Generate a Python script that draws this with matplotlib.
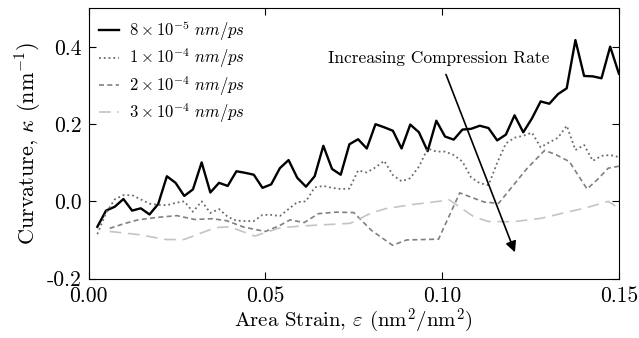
import numpy as np
import matplotlib
matplotlib.use("Agg")
import matplotlib.pyplot as plt

plt.rcParams['font.family'] = 'serif'
plt.rcParams['font.serif'] = ['cmr10']
plt.rcParams['mathtext.fontset'] = 'cm'
plt.rcParams['axes.unicode_minus'] = False

# Strain grid for the two finest runs
strain = np.linspace(0.0025, 0.15, 61)

# 8e-5 nm/ps
k_8e5 = [-0.066, -0.024, -0.014, 0.006, -0.024, -0.018, -0.034, -0.007, 0.065, 0.048,
         0.014, 0.031, 0.101, 0.023, 0.048, 0.040, 0.078, 0.074, 0.069, 0.035,
         0.044, 0.086, 0.107, 0.061, 0.038, 0.065, 0.144, 0.084, 0.069, 0.148,
         0.161, 0.137, 0.200, 0.192, 0.183, 0.137, 0.199, 0.179, 0.130, 0.209,
         0.168, 0.160, 0.186, 0.188, 0.196, 0.190, 0.158, 0.173, 0.223, 0.179,
         0.215, 0.259, 0.253, 0.278, 0.293, 0.418, 0.325, 0.324, 0.319, 0.401,
         0.331]

# 1e-4 nm/ps
k_1e4 = [-0.085, -0.030, 0.005, 0.016, 0.016, 0.005, -0.006, -0.009, -0.010, -0.004,
         0.000, -0.027, 0.000, -0.030, -0.020, -0.040, -0.050, -0.051, -0.051, -0.035,
         -0.035, -0.038, -0.020, -0.002, 0.000, 0.036, 0.040, 0.035, 0.032, 0.033,
         0.080, 0.075, 0.088, 0.105, 0.068, 0.052, 0.060, 0.090, 0.137, 0.129,
         0.129, 0.120, 0.103, 0.062, 0.047, 0.042, 0.100, 0.150, 0.165, 0.170,
         0.178, 0.140, 0.153, 0.165, 0.196, 0.133, 0.146, 0.105, 0.118, 0.120,
         0.115]

# 2e-4 nm/ps
strain_2e4 = [0.0060, 0.0100, 0.0140, 0.0190, 0.0250, 0.0300, 0.0350, 0.0390, 0.0440, 0.0500,
              0.0540, 0.0570, 0.0610, 0.0650, 0.0700, 0.0750, 0.0800, 0.0860, 0.0900, 0.0990,
              0.1050, 0.1090, 0.1120, 0.1160, 0.1240, 0.1290, 0.1320, 0.1360, 0.1410, 0.1440,
              0.1470, 0.1500]
k_2e4 = [-0.070, -0.058, -0.048, -0.042, -0.037, -0.047, -0.045, -0.050, -0.067, -0.078,
         -0.063, -0.048, -0.055, -0.032, -0.028, -0.029, -0.075, -0.114, -0.100, -0.098,
         0.022, 0.008, -0.002, -0.005, 0.085, 0.132, 0.122, 0.103, 0.032, 0.057,
         0.086, 0.091]

# 3e-4 nm/ps
strain_3e4 = [0.0060, 0.0140, 0.0220, 0.0270, 0.0310, 0.0360, 0.0400, 0.0470, 0.0540, 0.0600,
              0.0680, 0.0740, 0.0800, 0.0840, 0.0910, 0.0990, 0.1020, 0.1090, 0.1130, 0.1200,
              0.1280, 0.1340, 0.1410, 0.1470, 0.1500]
k_3e4 = [-0.078, -0.086, -0.099, -0.099, -0.085, -0.068, -0.066, -0.090, -0.069, -0.064,
         -0.060, -0.057, -0.030, -0.019, -0.009, 0.000, 0.004, -0.040, -0.052, -0.053,
         -0.044, -0.031, -0.016, 0.000, -0.018]

fig = plt.figure(figsize=(6.39, 3.38), dpi=100)
ax = fig.add_axes([0.1385, 0.176, 0.830, 0.799])

ax.plot(strain, k_8e5, '-', color='black', lw=1.7, label=r'$8\times10^{-5}\ nm/ps$')
ax.plot(strain, k_1e4, ':', color='#6a6a6a', lw=1.3, label=r'$1\times10^{-4}\ nm/ps$')
ax.plot(strain_2e4, k_2e4, '--', color='#808080', lw=1.2, dashes=(3, 2),
        label=r'$2\times10^{-4}\ nm/ps$')
ax.plot(strain_3e4, k_3e4, '--', color='#c4c4c4', lw=1.2, dashes=(7, 4),
        label=r'$3\times10^{-4}\ nm/ps$')

ax.text(0.099, 0.370, 'Increasing Compression Rate', fontsize=12.5,
        ha='center', va='center')
ax.annotate('', xy=(0.1206, -0.132), xytext=(0.1011, 0.329),
            arrowprops=dict(arrowstyle='-|>', color='black', lw=1.2,
                            mutation_scale=16, shrinkA=0, shrinkB=0))

ax.set_xlim(0, 0.15)
ax.set_ylim(-0.2, 0.5)
ax.set_xticks([0, 0.05, 0.10, 0.15])
ax.set_yticks([-0.2, 0.0, 0.2, 0.4])
ax.set_yticklabels(['-0.2', '0.0', '0.2', '0.4'])
ax.tick_params(direction='in', top=True, right=True, labelsize=15.5, length=5, pad=5)
ax.tick_params(axis='x', pad=6)
ax.set_xlabel(r'Area Strain, $\varepsilon$ (nm$^2$/nm$^2$)', fontsize=15, labelpad=0)
ax.set_ylabel(r'Curvature, $\kappa$ (nm$^{-1}$)', fontsize=16, labelpad=2)

ax.legend(loc='upper left', frameon=False, fontsize=12, handlelength=1.2,
          handletextpad=0.6, labelspacing=0.22, borderaxespad=0.2)

fig.savefig('out.png', dpi=100)
